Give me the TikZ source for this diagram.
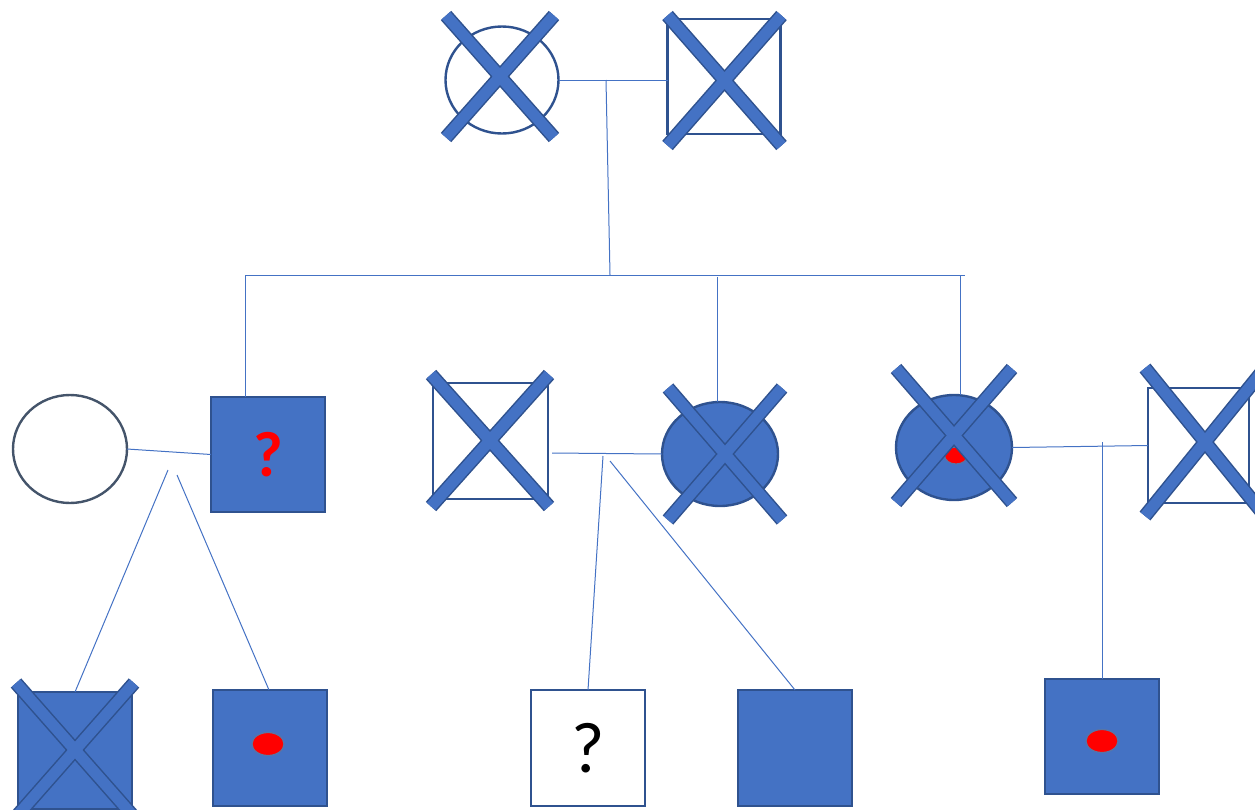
\documentclass[tikz,border=0pt]{standalone}
\usepackage{fontspec}
\setmainfont{Carlito}
\usetikzlibrary{shapes.geometric}
\definecolor{fillblue}{HTML}{4472C4}
\definecolor{edgeblue}{HTML}{2F528F}
\definecolor{slate}{HTML}{44546A}
\tikzset{
  person/.style={inner sep=0pt, outer sep=0pt, line width=2.4pt, draw=edgeblue},
  male/.style={person, rectangle},
  female/.style={person, ellipse},
  affected/.style={fill=fillblue},
  unaffected/.style={fill=white},
  link/.style={draw=fillblue, line width=1pt},
  carrier/.style={ellipse, fill=red, draw=edgeblue!80, line width=1.2pt,
    minimum width=32pt, minimum height=23pt, inner sep=0pt}
}
% deceased mark: two crossed bars centred on a point
\newcommand{\deadmark}[3]{%
  \begin{scope}[shift={(#1)}]
    \draw[edgeblue, line width=14pt] (-#2,-#3) -- (#2,#3) (#2,-#3) -- (-#2,#3);
    \draw[fillblue, line width=11pt] (-#2,-#3) -- (#2,#3) (#2,-#3) -- (-#2,#3);
  \end{scope}}
\begin{document}
\begin{tikzpicture}[x=1pt, y=-1pt]
\useasboundingbox (0,0) rectangle (1255,809);

% generation I
\node[female, unaffected, minimum width=113pt, minimum height=107pt] (gm) at (502,80) {};
\node[male, unaffected, minimum width=113pt, minimum height=115pt] (gf) at (724,76.5) {};

% generation II
\node[female, unaffected, draw=slate, line width=2.4pt, minimum width=114pt, minimum height=108pt] (w1) at (70,449) {};
\node[male, affected, minimum width=114pt, minimum height=115pt, text=red,
  font=\fontsize{64}{64}\selectfont\bfseries] (p1) at (268,454.5) {?};
\node[male, unaffected, minimum width=115pt, minimum height=116pt] (h2) at (490.5,441) {};
\node[female, affected, minimum width=116pt, minimum height=104pt] (d2) at (720,454) {};
\node[female, affected, minimum width=116pt, minimum height=105pt] (d3) at (954,447.5) {};
\node[carrier, minimum width=23pt, minimum height=17pt] (d3c) at (956,455.5) {};
\node[male, unaffected, minimum width=101pt, minimum height=115pt] (h3) at (1198.5,445.5) {};

% generation III
\node[male, affected, minimum width=114pt, minimum height=117pt] (c1) at (75,750.5) {};
\node[male, affected, minimum width=114pt, minimum height=116pt] (c2) at (270,748) {};
\node[carrier] (c2c) at (268,744) {};
\node[male, unaffected, minimum width=114pt, minimum height=116pt,
  font=\fontsize{72}{72}\selectfont] (c3) at (588,748) {?};
\node[male, affected, minimum width=114pt, minimum height=116pt] (c4) at (795,748) {};
\node[male, affected, minimum width=114pt, minimum height=115pt] (c5) at (1102,736.5) {};
\node[carrier] (c5c) at (1102,741) {};

% junction points
\coordinate (m0) at (606,80);
\coordinate (s0) at (610,275);
\coordinate (sL) at (245,275);
\coordinate (sR) at (965,275);
\coordinate (a2) at (717,277);
\coordinate (a3) at (960,275);
\coordinate (m1a) at (168,470);
\coordinate (m1b) at (177,475);
\coordinate (m2a) at (603,456);
\coordinate (m2b) at (610,461);
\coordinate (m3) at (1102,442);

% connectors
\draw[link] (gm.east) -- (gm.east -| gf.west);
\draw[link] (m0) -- (s0);
\draw[link] (sL) -- (sR);
\draw[link] (sL) -- (p1.north -| sL);
\draw[link] (a2) -- (d2.north -| a2);
\draw[link] (a3) -- (a3 |- 0,395);
\draw[link] (w1.east) -- (p1.west);
\draw[link] (552,453) -- (d2.west);
\draw[link] (d3.east) -- (h3.west);
\draw[link] (m1a) -- (75,692);
\draw[link] (m1b) -- (269,690);
\draw[link] (m2a) -- (588,690);
\draw[link] (m2b) -- (795,690);
\draw[link] (m3) -- (c5.north);

% deceased marks
\deadmark{500,76.5}{54}{61}
\deadmark{724.5,80.5}{57}{65}
\deadmark{490,440.5}{59}{66}
\deadmark{725,454}{57}{66}
\deadmark{954,435.5}{58}{67}
\deadmark{1205,442}{60}{74}
\deadmark{75,750}{59}{67}
\end{tikzpicture}
\end{document}
